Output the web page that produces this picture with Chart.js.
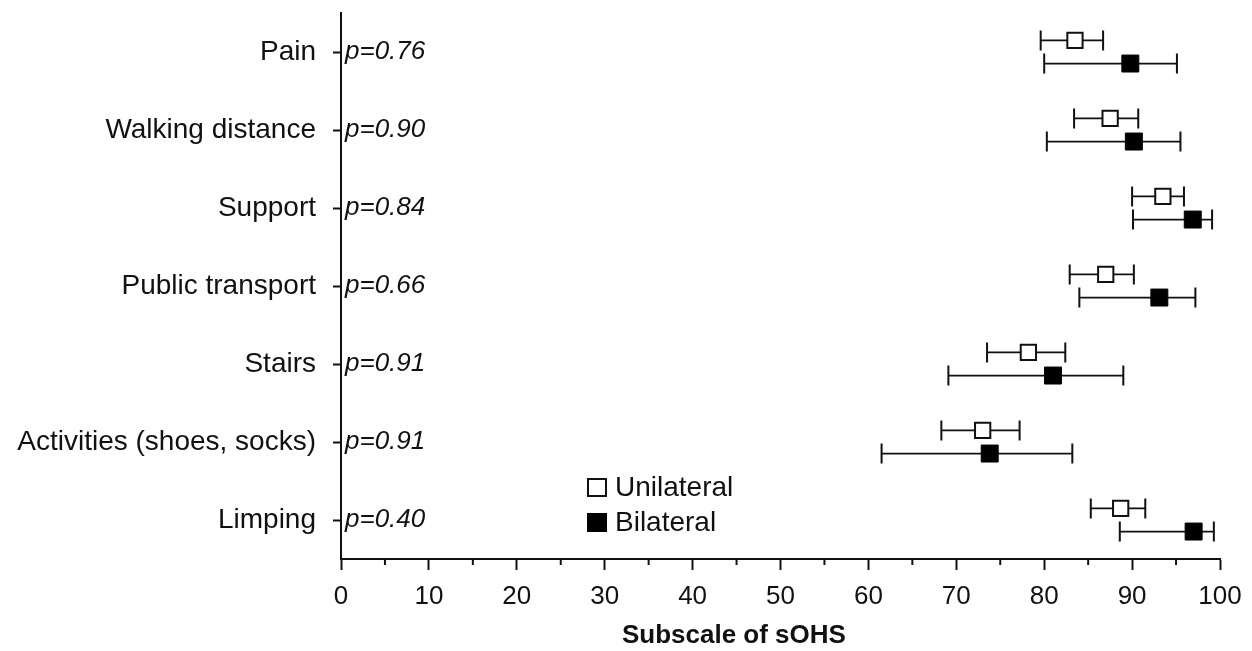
<!DOCTYPE html>
<html>
<head>
<meta charset="utf-8">
<script src="https://cdn.jsdelivr.net/npm/chart.js@4.4.1/dist/chart.umd.min.js"></script>
<style>
  html, body { margin: 0; padding: 0; background: #fff; }
  #wrap { width: 1252px; height: 651px; position: relative; }
</style>
</head>
<body>
<div id="wrap"><canvas id="myChart"></canvas></div>
<script>
// subscales, top to bottom
const categories = ['Pain', 'Walking distance', 'Support', 'Public transport', 'Stairs', 'Activities (shoes, socks)', 'Limping'];
const pValues = ['p=0.76', 'p=0.90', 'p=0.84', 'p=0.66', 'p=0.91', 'p=0.91', 'p=0.40'];
// unilateral
const uniMean = [83.5, 87.5, 93.5, 87.0, 78.2, 73.0, 88.7];
const uniLow  = [79.6, 83.4, 90.0, 82.9, 73.5, 68.3, 85.3];
const uniHigh = [86.7, 90.7, 95.9, 90.2, 82.4, 77.2, 91.5];
// bilateral
const biMean = [89.8, 90.2, 96.9, 93.1, 81.0, 73.8, 97.0];
const biLow  = [80.0, 80.3, 90.1, 84.0, 69.1, 61.5, 88.6];
const biHigh = [95.1, 95.5, 99.1, 97.2, 89.0, 83.2, 99.3];
const xTicks = [0, 10, 20, 30, 40, 50, 60, 70, 80, 90, 100];

const FONT = "'Liberation Sans', Arial, sans-serif";
const shift = 0.148; // vertical offset of the two groups within a row

const uniPoints = uniMean.map(function (v, i) { return { x: v, y: i - shift }; });
const biPoints = biMean.map(function (v, i) { return { x: v, y: i + shift }; });

// error bars, p values, minor ticks, legend and axis title
const extras = {
  id: 'extras',
  beforeDatasetsDraw(chart) {
    const ctx = chart.ctx;
    const xs = chart.scales.x, ys = chart.scales.y;
    ctx.save();
    ctx.strokeStyle = '#111';
    function bars(lo, hi, off) {
      lo.forEach(function (l, i) {
        const y = ys.getPixelForValue(i + off);
        const x1 = xs.getPixelForValue(l), x2 = xs.getPixelForValue(hi[i]);
        ctx.lineWidth = 1.8;
        ctx.beginPath(); ctx.moveTo(x1, y); ctx.lineTo(x2, y); ctx.stroke();
        ctx.lineWidth = 2;
        ctx.beginPath();
        ctx.moveTo(x1, y - 10); ctx.lineTo(x1, y + 10);
        ctx.moveTo(x2, y - 10); ctx.lineTo(x2, y + 10);
        ctx.stroke();
      });
    }
    bars(uniLow, uniHigh, -shift);
    bars(biLow, biHigh, shift);
    ctx.restore();
  },
  afterDraw(chart) {
    const ctx = chart.ctx;
    const xs = chart.scales.x, ys = chart.scales.y;
    const area = chart.chartArea;
    ctx.save();
    // p values
    ctx.fillStyle = '#111';
    ctx.font = 'italic 26px ' + FONT;
    ctx.textBaseline = 'middle';
    ctx.textAlign = 'left';
    pValues.forEach(function (p, i) {
      ctx.fillText(p, area.left + 4, ys.getPixelForValue(i));
    });
    // minor ticks
    ctx.strokeStyle = '#111';
    ctx.lineWidth = 2;
    for (let v = 5; v < 100; v += 10) {
      const x = xs.getPixelForValue(v);
      ctx.beginPath(); ctx.moveTo(x, area.bottom); ctx.lineTo(x, area.bottom + 6); ctx.stroke();
    }
    // legend
    const lx = area.left + 247;
    ctx.lineWidth = 2;
    ctx.fillStyle = '#fff';
    ctx.fillRect(lx, 479, 18, 17);
    ctx.strokeRect(lx, 479, 18, 17);
    ctx.fillStyle = '#000';
    ctx.fillRect(lx - 1, 513, 20, 19);
    ctx.fillStyle = '#111';
    ctx.font = '28px ' + FONT;
    ctx.fillText('Unilateral', lx + 27, 488);
    ctx.fillText('Bilateral', lx + 27, 523);
    // axis title
    ctx.font = 'bold 26px ' + FONT;
    ctx.textAlign = 'center';
    ctx.fillText('Subscale of sOHS', xs.getPixelForValue(44.7), 636);
    ctx.restore();
  }
};

const config = {
  type: 'scatter',
  data: {
    datasets: [{
      label: 'Unilateral',
      data: uniPoints,
      pointStyle: 'rect',
      pointRadius: 10.8,
      pointHoverRadius: 10.8,
      backgroundColor: '#fff',
      borderColor: '#111',
      borderWidth: 2
    }, {
      label: 'Bilateral',
      data: biPoints,
      pointStyle: 'rect',
      pointRadius: 12,
      pointHoverRadius: 12,
      backgroundColor: '#000',
      borderColor: '#000',
      borderWidth: 1
    }]
  },
  options: {
    responsive: true,
    maintainAspectRatio: false,
    animation: false,
    layout: { autoPadding: false, padding: { top: 13, right: 32, left: 0, bottom: 0 } },
    plugins: { legend: { display: false }, tooltip: { enabled: false } },
    scales: {
      x: {
        type: 'linear',
        min: 0,
        max: 100,
        afterBuildTicks: function (s) { s.ticks = xTicks.map(function (v) { return { value: v }; }); },
        afterFit: function (s) { s.height = 92; s.paddingLeft = 0; s.paddingRight = 0; },
        border: { display: true, color: '#111', width: 2 },
        grid: { drawOnChartArea: false, drawTicks: true, tickLength: 11, tickColor: '#111', tickWidth: 2 },
        ticks: { color: '#111', font: { family: FONT, size: 26 }, padding: 11, maxRotation: 0 }
      },
      y: {
        type: 'linear',
        min: -0.5,
        max: 6.5,
        reverse: true,
        afterBuildTicks: function (s) { s.ticks = categories.map(function (c, i) { return { value: i }; }); },
        afterFit: function (s) { s.width = 341; s.paddingTop = 0; s.paddingBottom = 0; },
        border: { display: true, color: '#111', width: 2 },
        grid: { drawOnChartArea: false, drawTicks: true, tickLength: 8, tickColor: '#111', tickWidth: 2 },
        ticks: {
          color: '#111',
          font: { family: FONT, size: 28 },
          padding: 17,
          callback: function (v) { return categories[v]; }
        }
      }
    }
  },
  plugins: [extras]
};

const ctx1 = document.getElementById('myChart').getContext('2d');
const myChart = new Chart(ctx1, config);
</script>
</body>
</html>
